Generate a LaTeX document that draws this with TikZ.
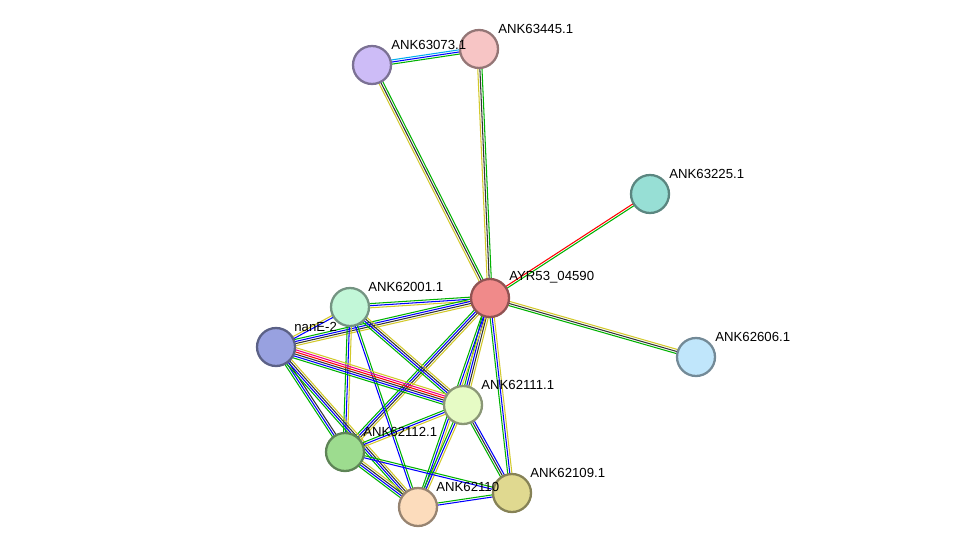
\documentclass[tikz,border=0pt]{standalone}
\usepackage{fontspec}
\setmainfont{Liberation Sans}
\usetikzlibrary{calc}
\tikzset{
  prot/.style={circle, draw=#1!60!black, line width=1.3pt, minimum size=0.76cm, inner sep=0},
  lbl/.style={font=\fontsize{7.5}{8}\selectfont, inner sep=0, anchor=south west}
}
% parallel coloured strands between two nodes
\newcommand{\strands}[4]{%
  \foreach \c [count=\i] in {#4}
    \draw[\c, line width=0.6pt]
      ($(#1)!{(\i-(#3+1)/2)*1.2pt}!90:(#2)$) -- ($(#2)!{(\i-(#3+1)/2)*1.2pt}!-90:(#1)$);
}
\definecolor{cHub}{HTML}{F08A8A}
\definecolor{cA}{HTML}{CDBCF7}
\definecolor{cB}{HTML}{F7C5C5}
\definecolor{cC}{HTML}{97DFD5}
\definecolor{cD}{HTML}{C0E6FB}
\definecolor{cE}{HTML}{C2F7D8}
\definecolor{cF}{HTML}{98A1E0}
\definecolor{cG}{HTML}{E6FBC5}
\definecolor{cH}{HTML}{9DDC8F}
\definecolor{cI}{HTML}{FCDCBC}
\definecolor{cJ}{HTML}{E0D990}
\colorlet{sg}{green!70!black}
\colorlet{sy}{yellow!80!black}
\colorlet{sk}{black!80}
\begin{document}
\begin{tikzpicture}
\useasboundingbox (0,0) rectangle (19.52,-11.06);

% node positions
\coordinate (hub) at (9.80,-5.96);
\coordinate (a) at (7.44,-1.30);
\coordinate (b) at (9.58,-0.98);
\coordinate (c) at (13.00,-3.88);
\coordinate (d) at (13.92,-7.14);
\coordinate (e) at (7.00,-6.14);
\coordinate (f) at (5.52,-6.94);
\coordinate (g) at (9.26,-8.10);
\coordinate (h) at (6.90,-9.04);
\coordinate (i) at (8.36,-10.14);
\coordinate (j) at (10.24,-9.86);

% edges
\strands{hub}{a}{3}{sg,sk,sy}
\strands{hub}{b}{3}{sg,sk,sy}
\strands{a}{b}{3}{sg,blue,cyan}
\strands{hub}{c}{2}{sg,red}
\strands{hub}{d}{3}{sg,sk,sy}
\strands{hub}{e}{3}{sg,blue,sy}
\strands{hub}{f}{4}{sg,blue,sk,sy}
\strands{hub}{g}{4}{sg,blue,sk,sy}
\strands{hub}{h}{4}{sg,blue,sk,sy}
\strands{hub}{i}{3}{sg,blue,sy}
\strands{hub}{j}{3}{sg,blue,sy}
\strands{e}{f}{2}{sy,blue}
\strands{e}{g}{4}{sg,blue,sk,sy}
\strands{e}{h}{3}{sg,blue,sy}
\strands{e}{i}{2}{blue,sg}
\strands{f}{g}{6}{sg,blue,sk,red,magenta,sy}
\strands{f}{h}{3}{sg,blue,sk}
\strands{f}{i}{4}{sg,blue,sk,sy}
\strands{g}{h}{3}{sg,blue,sy}
\strands{g}{i}{3}{sg,blue,sy}
\strands{g}{j}{3}{sg,sk,blue}
\strands{h}{i}{4}{sg,blue,sk,sy}
\strands{h}{j}{2}{blue,sg}
\strands{i}{j}{2}{blue,sg}

% proteins
\node[prot=cHub, fill=cHub] (nHub) at (hub) {};
\node[prot=cA, fill=cA] (nA) at (a) {};
\node[prot=cB, fill=cB] (nB) at (b) {};
\node[prot=cC, fill=cC] (nC) at (c) {};
\node[prot=cD, fill=cD] (nD) at (d) {};
\node[prot=cE, fill=cE] (nE) at (e) {};
\node[prot=cF, fill=cF] (nF) at (f) {};
\node[prot=cG, fill=cG] (nG) at (g) {};
\node[prot=cH, fill=cH] (nH) at (h) {};
\node[prot=cI, fill=cI] (nI) at (i) {};
\node[prot=cJ, fill=cJ] (nJ) at (j) {};

% labels
\node[lbl] (tHub) at ($(nHub)+(0.38,0.30)$) {AYR53\_04590};
\node[lbl] (tA) at ($(nA)+(0.38,0.30)$) {ANK63073.1};
\node[lbl] (tB) at ($(nB)+(0.38,0.30)$) {ANK63445.1};
\node[lbl] (tC) at ($(nC)+(0.38,0.30)$) {ANK63225.1};
\node[lbl] (tD) at ($(nD)+(0.38,0.30)$) {ANK62606.1};
\node[lbl] (tE) at ($(nE)+(0.36,0.30)$) {ANK62001.1};
\node[lbl] (tF) at ($(nF)+(0.36,0.30)$) {nanE-2};
\node[lbl] (tG) at ($(nG)+(0.36,0.30)$) {ANK62111.1};
\node[lbl] (tH) at ($(nH)+(0.36,0.30)$) {ANK62112.1};
\node[lbl] (tI) at ($(nI)+(0.36,0.30)$) {ANK62110};
\node[lbl] (tJ) at ($(nJ)+(0.36,0.30)$) {ANK62109.1};
\end{tikzpicture}
\end{document}
